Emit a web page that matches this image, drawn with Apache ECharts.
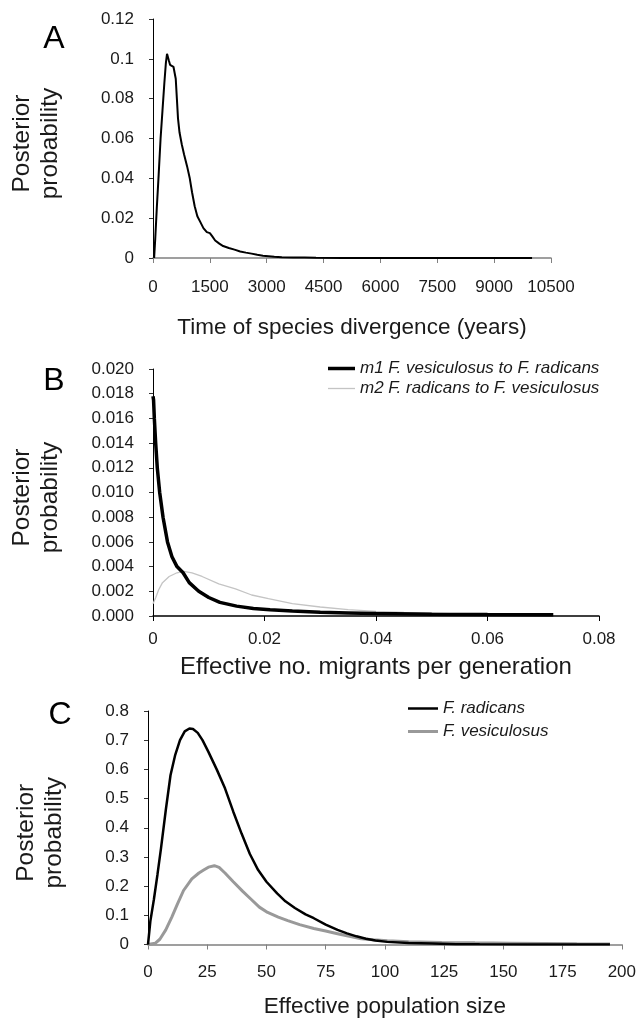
<!DOCTYPE html>
<html>
<head>
<meta charset="utf-8">
<script src="https://cdn.jsdelivr.net/npm/echarts@6/dist/echarts.min.js"></script>
<style>
html,body{margin:0;padding:0;background:#fff;}
#chart{width:639px;height:1019px;}
</style>
</head>
<body>
<div id="chart"></div>
<script>
// ---------- Panel A: time of species divergence ----------
var timeA = [30, 60, 100, 150, 200, 250, 300, 340, 370, 395, 420, 450, 500, 540, 570, 600, 630, 660, 700, 760, 820, 900, 970, 1030, 1100, 1170, 1250, 1330, 1420, 1500, 1560, 1640, 1750, 1850, 2000, 2150, 2300, 2450, 2600, 2750, 2900, 3050, 3200, 3400, 3700, 4000, 4300, 5000, 6000, 7000, 8000, 9000, 10000];
var probA = [0, 0.010, 0.025, 0.042, 0.060, 0.074, 0.088, 0.098, 0.1025, 0.1035, 0.099, 0.097, 0.0965, 0.096, 0.095, 0.090, 0.080, 0.070, 0.063, 0.057, 0.052, 0.046, 0.040, 0.033, 0.026, 0.021, 0.018, 0.015, 0.013, 0.0125, 0.011, 0.0088, 0.0072, 0.006, 0.005, 0.0042, 0.0033, 0.0027, 0.0022, 0.0016, 0.0011, 0.0009, 0.0006, 0.0004, 0.0003, 0.0002, 0.0001, 0.00005, 0.00003, 0.00002, 0.00001, 0.00001, 0.00001];
var xTicksA = ['0', '1500', '3000', '4500', '6000', '7500', '9000', '10500'];
var yTicksA = ['0', '0.02', '0.04', '0.06', '0.08', '0.1', '0.12'];

// ---------- Panel B: migrants per generation ----------
var nameM1 = 'm1 F. vesiculosus to F. radicans';
var nameM2 = 'm2 F. radicans to F. vesiculosus';
var migM1 = [0, 0.0001, 0.00024, 0.00048, 0.00077, 0.0012, 0.0018, 0.0026, 0.0034, 0.0043, 0.0054, 0.0065, 0.0082, 0.010, 0.012, 0.015, 0.018, 0.021, 0.025, 0.030, 0.035, 0.040, 0.050, 0.060, 0.0718];
var probM1 = [0.0178, 0.0175, 0.016, 0.014, 0.012, 0.010, 0.008, 0.006, 0.0048, 0.004, 0.0035, 0.0027, 0.002, 0.0015, 0.0011, 0.0008, 0.0006, 0.0005, 0.0004, 0.0003, 0.00025, 0.0002, 0.00015, 0.00012, 0.0001];
var migM2 = [0, 0.0005, 0.001, 0.0017, 0.0029, 0.0043, 0.0055, 0.007, 0.0088, 0.0118, 0.0148, 0.0177, 0.0207, 0.025, 0.030, 0.035, 0.040, 0.045, 0.050, 0.055, 0.060, 0.066];
var probM2 = [0.001, 0.0015, 0.0021, 0.0027, 0.0032, 0.0035, 0.00362, 0.0035, 0.0032, 0.0026, 0.0022, 0.0017, 0.0014, 0.0010, 0.00073, 0.00052, 0.00038, 0.0003, 0.00024, 0.00018, 0.00014, 0.0001];
var xTicksB = ['0', '0.02', '0.04', '0.06', '0.08'];
var yTicksB = ['0.000', '0.002', '0.004', '0.006', '0.008', '0.010', '0.012', '0.014', '0.016', '0.018', '0.020'];

// ---------- Panel C: effective population size ----------
var nameRad = 'F. radicans';
var nameVes = 'F. vesiculosus';
var neRad = [0, 1, 2.5, 4, 5.5, 7.5, 9.5, 11.5, 13.5, 15.5, 17.5, 19, 21, 23, 25.5, 29, 32.5, 36, 39.5, 43, 46.5, 50, 54.5, 58, 62, 66.5, 70, 75, 80, 84, 88, 92, 96, 101, 110, 120, 130, 140, 160, 180, 195];
var probRad = [0, 0.08, 0.155, 0.24, 0.33, 0.46, 0.58, 0.65, 0.70, 0.73, 0.74, 0.738, 0.725, 0.70, 0.66, 0.60, 0.535, 0.455, 0.38, 0.31, 0.255, 0.215, 0.175, 0.148, 0.125, 0.103, 0.09, 0.068, 0.05, 0.038, 0.028, 0.02, 0.014, 0.009, 0.005, 0.003, 0.001, 0.0005, 0.0002, 0.0001, 0];
var neVes = [0, 3, 5, 7.5, 10, 12.5, 15, 18.5, 21.5, 23.5, 25.5, 28, 30, 32.5, 36, 40, 43.5, 47, 50.5, 55, 59, 64, 70, 75, 80, 85, 90, 95, 101, 110, 124, 138, 153, 167, 181, 195];
var probVes = [0, 0.004, 0.018, 0.05, 0.093, 0.14, 0.185, 0.225, 0.245, 0.255, 0.265, 0.27, 0.264, 0.245, 0.215, 0.182, 0.155, 0.128, 0.11, 0.094, 0.082, 0.068, 0.055, 0.046, 0.037, 0.028, 0.02, 0.016, 0.0125, 0.009, 0.0068, 0.0056, 0.0045, 0.0034, 0.0023, 0.002];
var xTicksC = ['0', '25', '50', '75', '100', '125', '150', '175', '200'];
var yTicksC = ['0', '0.1', '0.2', '0.3', '0.4', '0.5', '0.6', '0.7', '0.8'];

function pairs(xs, ys) { return xs.map(function (x, i) { return [x, ys[i]]; }); }

var FONT = '"Liberation Sans", Arial, sans-serif';
function tickFont() { return { fontFamily: FONT, fontSize: 17, color: '#1a1a1a' }; }
function titleFont(size) { return { fontFamily: FONT, fontSize: size, color: '#1a1a1a', verticalAlign: 'middle' }; }
function yTitleFont() {
  return { fontFamily: FONT, fontSize: 24.5, lineHeight: 28, color: '#1a1a1a', verticalAlign: 'middle', align: 'center', padding: [0, 10, 0, 0] };
}
var legendText = { fontFamily: FONT, fontSize: 17, fontStyle: 'italic', color: '#1a1a1a' };

function xAxisCfg(idx, max, interval, labels, name, size, gap, margin, lineColor) {
  return {
    type: 'value', gridIndex: idx, min: 0, max: max, interval: interval,
    name: name, nameLocation: 'middle', nameGap: gap, nameTextStyle: titleFont(size),
    axisLine: { show: true, onZero: false, lineStyle: { color: lineColor, width: 1.5 } },
    axisTick: { show: true, length: 5, lineStyle: { color: lineColor } },
    axisLabel: Object.assign({ margin: margin, verticalAlign: 'top', formatter: function (v, i) { return labels[i]; } }, tickFont()),
    splitLine: { show: false }
  };
}
function yAxisCfg(idx, max, interval, labels, gap) {
  return {
    type: 'value', gridIndex: idx, min: 0, max: max, interval: interval,
    name: 'Posterior\nprobability', nameLocation: 'middle', nameGap: gap, nameRotate: 90, nameTextStyle: yTitleFont(),
    axisLine: { show: true, lineStyle: { color: '#000', width: 1 } },
    axisTick: { show: true, length: 4, lineStyle: { color: '#333' } },
    axisLabel: Object.assign({ margin: 19, formatter: function (v, i) { return labels[i]; } }, tickFont()),
    splitLine: { show: false }
  };
}
function legendItem(name, left, top, w, h) {
  return { data: [name], icon: 'rect', orient: 'vertical', left: left, top: top, padding: 0, itemWidth: w, itemHeight: h, textStyle: legendText };
}

var chart = echarts.init(document.getElementById('chart'), null, { renderer: 'canvas' });
chart.setOption({
  animation: false,
  backgroundColor: '#fff',
  grid: [
    { left: 151, top: 19, width: 400, height: 239 },
    { left: 151, top: 369, width: 448, height: 247 },
    { left: 148, top: 711, width: 479, height: 236 }
  ],
  xAxis: [
    xAxisCfg(0, 10500, 1500, xTicksA, 'Time of species divergence (years)', 22.5, 70, 21, '#808080'),
    xAxisCfg(1, 0.08, 0.02, xTicksB, 'Effective no. migrants per generation', 24, 51, 15, '#000'),
    xAxisCfg(2, 200, 25, xTicksC, 'Effective population size', 22.5, 62, 19, '#808080')
  ],
  yAxis: [
    yAxisCfg(0, 0.12, 0.02, yTicksA, 117),
    yAxisCfg(1, 0.02, 0.002, yTicksB, 117),
    yAxisCfg(2, 0.8, 0.1, yTicksC, 108)
  ],
  legend: [
    legendItem(nameM1, 328, 360, 27, 3.5),
    legendItem(nameM2, 328, 380, 27, 1.3),
    legendItem(nameRad, 408, 700, 30, 2.5),
    legendItem(nameVes, 408, 723, 30, 3)
  ],
  graphic: [
    { type: 'text', x: 54, y: 39, style: { text: 'A', font: '32px "Liberation Sans", Arial, sans-serif', fill: '#000', textAlign: 'center', textVerticalAlign: 'middle' } },
    { type: 'text', x: 54, y: 381, style: { text: 'B', font: '32px "Liberation Sans", Arial, sans-serif', fill: '#000', textAlign: 'center', textVerticalAlign: 'middle' } },
    { type: 'text', x: 60, y: 715, style: { text: 'C', font: '32px "Liberation Sans", Arial, sans-serif', fill: '#000', textAlign: 'center', textVerticalAlign: 'middle' } }
  ],
  series: [
    { name: 'A', type: 'line', xAxisIndex: 0, yAxisIndex: 0, data: pairs(timeA, probA), symbol: 'none', lineStyle: { color: '#000', width: 2 }, itemStyle: { color: '#000' } },
    { name: nameM2, type: 'line', xAxisIndex: 1, yAxisIndex: 1, data: pairs(migM2, probM2), symbol: 'none', lineStyle: { color: '#c4c4c4', width: 1.3 }, itemStyle: { color: '#c4c4c4' }, z: 2 },
    { name: nameM1, type: 'line', xAxisIndex: 1, yAxisIndex: 1, data: pairs(migM1, probM1), symbol: 'none', lineStyle: { color: '#000', width: 3.5 }, itemStyle: { color: '#000' }, z: 3 },
    { name: nameRad, type: 'line', xAxisIndex: 2, yAxisIndex: 2, data: pairs(neRad, probRad), symbol: 'none', lineStyle: { color: '#000', width: 2.5 }, itemStyle: { color: '#000' }, z: 3 },
    { name: nameVes, type: 'line', xAxisIndex: 2, yAxisIndex: 2, data: pairs(neVes, probVes), symbol: 'none', lineStyle: { color: '#999', width: 3 }, itemStyle: { color: '#999' }, z: 2 }
  ]
});
</script>
</body>
</html>
